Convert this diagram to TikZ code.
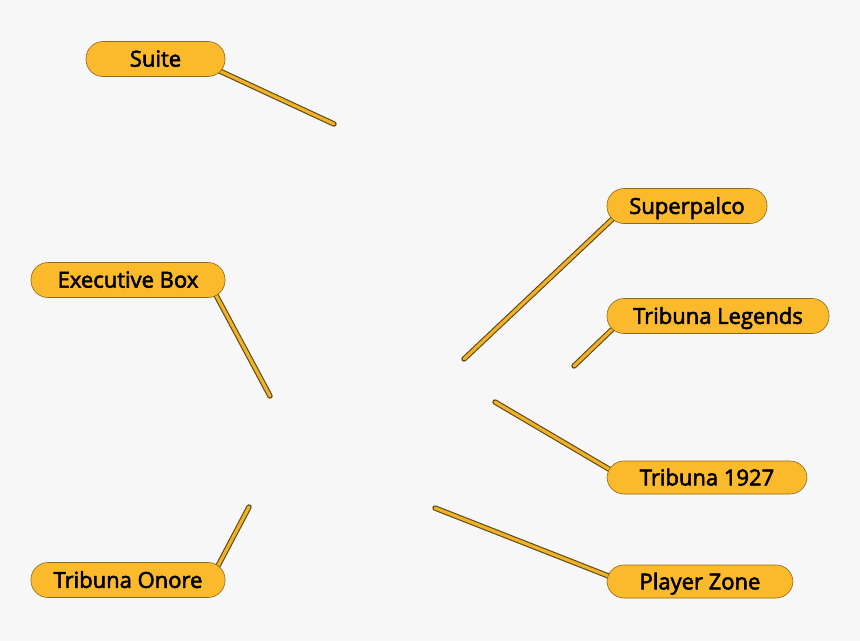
\documentclass[tikz,border=0pt]{standalone}
\usepackage{fontspec}
\newfontfamily\pillfont{Open Sans}[FakeBold=2.5]
\usetikzlibrary{backgrounds}
\definecolor{pagebg}{HTML}{F7F7F7}
\definecolor{pillfill}{HTML}{FBBA2C}
\definecolor{pilledge}{HTML}{8A6A1C}
\definecolor{stickin}{HTML}{EFB12A}
\definecolor{stickout}{HTML}{5C4612}

\begin{document}
\begin{tikzpicture}[x=1pt, y=-1pt,
    pill/.style={draw=pilledge, line width=0.6pt, fill=pillfill, rounded corners=17pt,
      minimum height=35pt, inner sep=0pt, text depth=1pt,
      font=\pillfont\fontsize{22}{26}\selectfont},
    stick/.style={draw=stickout, line width=1.1pt, double=stickin, double distance=3.2pt, line cap=round}]
    \useasboundingbox (0,0) rectangle (860,641);
    % left labels
    \node[pill, minimum width=139pt] (suite) at (155.5,59) {Suite};
    \node[pill, minimum width=194pt] (exec) at (128,280) {Executive Box};
    \node[pill, minimum width=194pt] (onore) at (128,580) {Tribuna Onore};
    % right labels
    \node[pill, minimum width=160pt] (superpalco) at (687,206) {Superpalco};
    \node[pill, minimum width=222pt] (legends) at (718,316) {Tribuna Legends};
    \node[pill, minimum width=200pt, minimum height=33pt] (t1927) at (707,477.5) {Tribuna 1927};
    \node[pill, minimum width=186pt, minimum height=33pt] (player) at (700,581.5) {Player Zone};
    % free ends
    \coordinate (suiteend) at (334,124);
    \coordinate (execend) at (270,396);
    \coordinate (onoreend) at (249,507);
    \coordinate (superend) at (464,359);
    \coordinate (legendsend) at (574,366);
    \coordinate (t1927end) at (495,402);
    \coordinate (playerend) at (435,508);
    % sticks, behind the labels
    \begin{scope}[on background layer]
        \fill[pagebg] (0,0) rectangle (860,641);
        \draw[stick] ([xshift=-6pt,yshift=6pt]suite.south east) -- (suiteend);
        \draw[stick] ([xshift=-10pt,yshift=4pt]exec.south east) -- (execend);
        \draw[stick] ([xshift=-8pt,yshift=-5pt]onore.north east) -- (onoreend);
        \draw[stick] ([xshift=6pt,yshift=5pt]superpalco.south west) -- (superend);
        \draw[stick] ([xshift=5pt,yshift=4pt]legends.south west) -- (legendsend);
        \draw[stick] ([xshift=3pt,yshift=8pt]t1927.west) -- (t1927end);
        \draw[stick] ([xshift=3pt,yshift=5pt]player.west) -- (playerend);
    \end{scope}
\end{tikzpicture}
\end{document}
